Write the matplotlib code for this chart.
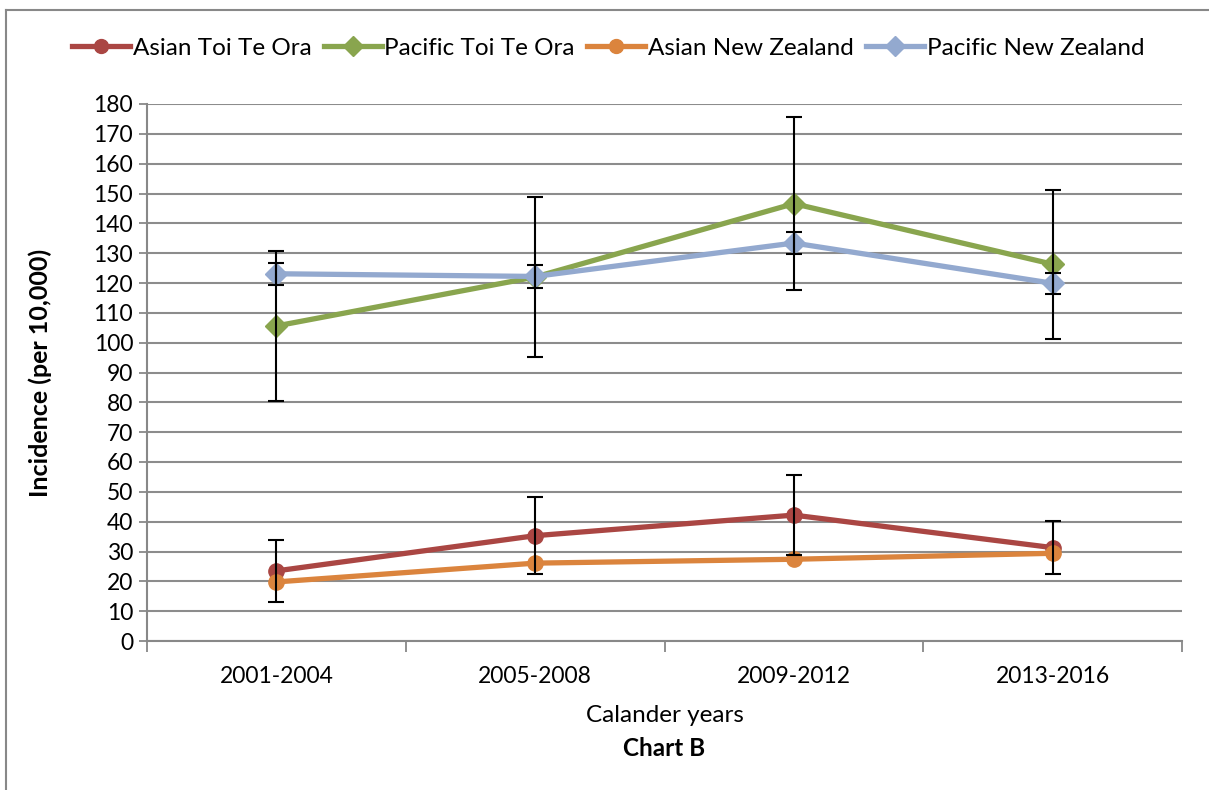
import matplotlib
matplotlib.use("Agg")
import matplotlib.pyplot as plt
from matplotlib.lines import Line2D
import numpy as np

plt.rcParams['font.family'] = ['Lato', 'DejaVu Sans']

periods = ["2001-2004", "2005-2008", "2009-2012", "2013-2016"]

asian_tto = [23.5, 35.3, 42.2, 31.3]
asian_tto_err = [10.4, 12.9, 13.4, 8.9]
pacific_tto = [105.6, 122.0, 146.6, 126.3]
pacific_tto_err = [25.2, 26.8, 29.0, 25.0]
asian_nz = [19.8, 26.1, 27.4, 29.4]
pacific_nz = [123.1, 122.2, 133.4, 119.9]
pacific_nz_err = [3.7, 3.9, 3.7, 3.6]

series_names = ["Asian Toi Te Ora", "Pacific Toi Te Ora", "Asian New Zealand", "Pacific New Zealand"]
colors = ["#AA4643", "#89A54E", "#DB843D", "#93A9CF"]
markers = ["o", "D", "o", "D"]

W, H = 1209, 790
fig = plt.figure(figsize=(W / 100, H / 100), dpi=100)
ax = fig.add_axes([147 / W, 1 - 641 / H, (1182 - 147) / W, (641 - 104) / H])

x = np.arange(len(periods))
values = [asian_tto, pacific_tto, asian_nz, pacific_nz]
errors = [asian_tto_err, pacific_tto_err, None, pacific_nz_err]

# lines and markers
for vals, col, mk, name in zip(values, colors, markers, series_names):
    ax.plot(x, vals, color=col, lw=3.8, marker=mk, ms=11, mec=col, mfc=col,
            zorder=3, label=name, solid_capstyle='round')

# error bars drawn over the lines
for vals, err in zip(values, errors):
    if err is None:
        continue
    ax.errorbar(x, vals, yerr=err, fmt='none', ecolor='black', elinewidth=1.5,
                capsize=6, capthick=1.5, zorder=4)

ax.set_xlim(-0.5, 3.5)
ax.set_ylim(0, 180)
ax.set_yticks(np.arange(0, 181, 10))
ax.set_xticks(x)
ax.set_xticklabels(periods, fontsize=16.5)
ax.tick_params(axis='x', length=0, pad=18)
ax.set_xticks(np.arange(-0.5, 4, 1), minor=True)
ax.tick_params(axis='x', which='minor', length=8, width=1.3, color='#888888')
ax.tick_params(axis='y', labelsize=16.5, length=6, width=1.3, color='#888888', pad=4)

ax.yaxis.grid(True, color='#8C8C8C', lw=1.5)
ax.set_axisbelow(True)
for side in ['top', 'right']:
    ax.spines[side].set_visible(False)
for side in ['left', 'bottom']:
    ax.spines[side].set_color('#888888')
    ax.spines[side].set_linewidth(1.5)

ax.set_ylabel("Incidence (per 10,000)", fontsize=18, fontweight='bold')
ax.yaxis.set_label_coords((52 - 147) / (1182 - 147), 0.5)
fig.text((147 + 1182) / 2 / W, 1 - 716 / H, "Calander years", ha='center', va='center', fontsize=17.5)
fig.text((147 + 1182) / 2 / W, 1 - 748 / H, "Chart B", ha='center', va='center', fontsize=17.5,
         fontweight='bold')

handles = [Line2D([0], [0], color=c, lw=3.8, marker=m, ms=10, mec=c, mfc=c)
           for c, m in zip(colors, markers)]
fig.legend(handles, series_names, loc='center', bbox_to_anchor=(608 / W, 1 - 48 / H), ncol=4,
           frameon=False, fontsize=17.5, handlelength=2.4, handletextpad=0.1, columnspacing=0.5)

# chart border (top and left edges)
fig.add_artist(Line2D([6 / W, 6 / W], [0, 1 - 10 / H], transform=fig.transFigure, color='#888888', lw=1.5))
fig.add_artist(Line2D([6 / W, 1], [1 - 10 / H, 1 - 10 / H], transform=fig.transFigure, color='#888888', lw=1.5))

fig.savefig("out.png", dpi=100)
